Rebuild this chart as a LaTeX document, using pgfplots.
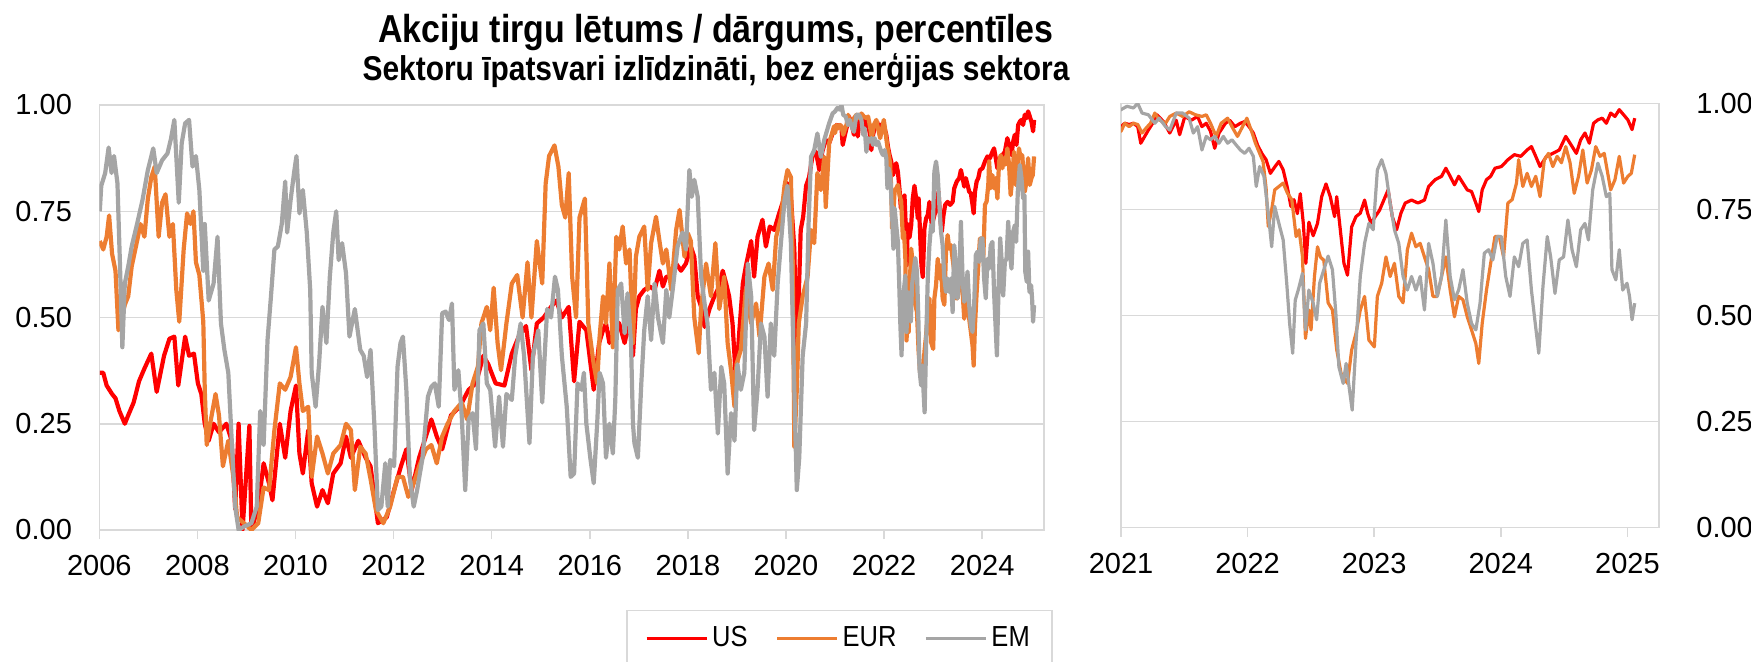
\documentclass[border=0pt]{standalone}
\usepackage{fontspec}
\setmainfont{Liberation Sans}
\newfontfamily\titlefont{Liberation Sans}[FakeStretch=0.87]
\newfontfamily\legfont{Liberation Sans}[FakeStretch=0.88]
\usepackage{pgfplots}
\usepackage{pgfplotstable}
\pgfplotsset{compat=1.18}
\definecolor{usred}{HTML}{FF0000}
\definecolor{eurorange}{HTML}{ED7D31}
\definecolor{emgray}{HTML}{A5A5A5}
\definecolor{gridgray}{HTML}{D9D9D9}

\pgfplotstableread{
year val
2006.01 0.37
2006.08 0.37
2006.15 0.34
2006.26 0.32
2006.33 0.31
2006.41 0.28
2006.52 0.25
2006.59 0.27
2006.70 0.30
2006.81 0.35
2006.92 0.38
2007.06 0.415
2007.17 0.325
2007.32 0.41
2007.43 0.45
2007.53 0.455
2007.61 0.34
2007.75 0.455
2007.83 0.41
2007.93 0.415
2008.01 0.345
2008.08 0.32
2008.15 0.25
2008.23 0.21
2008.33 0.25
2008.44 0.23
2008.59 0.25
2008.70 0.21
2008.77 0.05
2008.84 0.25
2008.92 0.0
2009.06 0.245
2009.10 0.0
2009.24 0.055
2009.35 0.157
2009.46 0.11
2009.53 0.07
2009.68 0.25
2009.79 0.17
2009.90 0.28
2010.01 0.34
2010.08 0.18
2010.15 0.133
2010.26 0.235
2010.33 0.11
2010.44 0.055
2010.55 0.094
2010.66 0.063
2010.77 0.133
2010.92 0.157
2011.03 0.22
2011.13 0.17
2011.28 0.21
2011.43 0.17
2011.53 0.15
2011.68 0.016
2011.86 0.03
2012.01 0.094
2012.15 0.15
2012.26 0.19
2012.37 0.094
2012.52 0.17
2012.63 0.21
2012.77 0.26
2012.88 0.22
2012.99 0.19
2013.17 0.27
2013.35 0.29
2013.53 0.33
2013.68 0.345
2013.83 0.41
2013.93 0.39
2014.08 0.345
2014.26 0.34
2014.41 0.415
2014.55 0.455
2014.70 0.48
2014.81 0.376
2014.92 0.486
2015.06 0.50
2015.21 0.525
2015.32 0.54
2015.43 0.50
2015.57 0.525
2015.68 0.35
2015.79 0.49
2015.93 0.47
2016.08 0.33
2016.19 0.44
2016.27 0.47
2016.33 0.486
2016.40 0.44
2016.50 0.494
2016.60 0.486
2016.71 0.44
2016.81 0.494
2016.88 0.41
2016.94 0.52
2017.01 0.55
2017.11 0.565
2017.22 0.573
2017.32 0.565
2017.42 0.61
2017.49 0.573
2017.56 0.596
2017.66 0.596
2017.76 0.627
2017.86 0.61
2017.96 0.627
2018.06 0.667
2018.13 0.643
2018.20 0.55
2018.27 0.525
2018.34 0.478
2018.44 0.52
2018.54 0.55
2018.64 0.573
2018.71 0.61
2018.78 0.58
2018.84 0.55
2018.91 0.486
2018.98 0.353
2019.05 0.47
2019.12 0.58
2019.18 0.62
2019.29 0.68
2019.35 0.596
2019.42 0.69
2019.52 0.73
2019.59 0.667
2019.67 0.714
2019.76 0.706
2019.86 0.745
2019.97 0.784
2020.03 0.816
2020.10 0.784
2020.17 0.66
2020.22 0.37
2020.26 0.55
2020.30 0.706
2020.35 0.737
2020.41 0.81
2020.47 0.83
2020.54 0.88
2020.61 0.89
2020.68 0.847
2020.74 0.89
2020.81 0.918
2020.88 0.91
2020.95 0.933
2021.000 0.945
2021.030 0.953
2021.064 0.95
2021.098 0.953
2021.132 0.945
2021.156 0.906
2021.183 0.92
2021.216 0.937
2021.250 0.953
2021.284 0.973
2021.335 0.957
2021.385 0.93
2021.436 0.96
2021.463 0.926
2021.504 0.969
2021.554 0.96
2021.605 0.969
2021.639 0.945
2021.673 0.953
2021.707 0.934
2021.740 0.894
2021.774 0.93
2021.825 0.953
2021.859 0.96
2021.899 0.945
2021.943 0.953
2021.977 0.957
2022.011 0.945
2022.045 0.93
2022.078 0.902
2022.112 0.882
2022.146 0.867
2022.180 0.835
2022.214 0.85
2022.247 0.863
2022.281 0.843
2022.315 0.80
2022.342 0.757
2022.366 0.773
2022.393 0.74
2022.416 0.787
2022.440 0.717
2022.460 0.623
2022.484 0.72
2022.518 0.688
2022.552 0.717
2022.585 0.78
2022.619 0.81
2022.653 0.78
2022.687 0.733
2022.704 0.78
2022.738 0.686
2022.761 0.623
2022.789 0.595
2022.822 0.709
2022.856 0.733
2022.890 0.741
2022.924 0.772
2022.948 0.741
2022.975 0.717
2023.008 0.733
2023.042 0.748
2023.076 0.772
2023.110 0.796
2023.143 0.733
2023.177 0.702
2023.211 0.741
2023.245 0.765
2023.295 0.772
2023.346 0.765
2023.397 0.772
2023.430 0.804
2023.481 0.82
2023.532 0.828
2023.566 0.847
2023.600 0.828
2023.634 0.808
2023.667 0.828
2023.701 0.812
2023.735 0.796
2023.769 0.792
2023.803 0.765
2023.826 0.745
2023.853 0.796
2023.887 0.82
2023.920 0.828
2023.954 0.847
2024.005 0.851
2024.056 0.867
2024.107 0.879
2024.158 0.875
2024.208 0.89
2024.242 0.898
2024.276 0.875
2024.310 0.851
2024.361 0.875
2024.411 0.882
2024.462 0.89
2024.513 0.922
2024.547 0.906
2024.597 0.882
2024.631 0.914
2024.665 0.93
2024.699 0.906
2024.733 0.953
2024.767 0.961
2024.801 0.965
2024.834 0.953
2024.868 0.977
2024.902 0.969
2024.936 0.985
2024.970 0.973
2025.004 0.961
2025.037 0.938
2025.058 0.965
}\usdata

\pgfplotstableread{
year val
2006.01 0.68
2006.08 0.66
2006.15 0.69
2006.20 0.74
2006.26 0.65
2006.33 0.61
2006.39 0.47
2006.44 0.49
2006.52 0.53
2006.59 0.55
2006.66 0.62
2006.77 0.68
2006.84 0.72
2006.92 0.69
2006.99 0.78
2007.06 0.83
2007.13 0.855
2007.21 0.69
2007.28 0.77
2007.35 0.79
2007.43 0.69
2007.50 0.72
2007.57 0.565
2007.63 0.49
2007.72 0.66
2007.79 0.745
2007.86 0.72
2007.92 0.75
2007.97 0.63
2008.04 0.60
2008.12 0.49
2008.15 0.33
2008.19 0.20
2008.26 0.25
2008.37 0.32
2008.44 0.27
2008.52 0.15
2008.63 0.21
2008.74 0.12
2008.81 0.03
2008.95 0.016
2009.10 0.0
2009.24 0.016
2009.35 0.10
2009.46 0.094
2009.57 0.235
2009.68 0.345
2009.79 0.33
2009.90 0.36
2010.01 0.43
2010.08 0.345
2010.15 0.28
2010.26 0.29
2010.33 0.125
2010.44 0.22
2010.55 0.18
2010.66 0.133
2010.77 0.18
2010.92 0.20
2011.03 0.25
2011.13 0.235
2011.21 0.094
2011.32 0.196
2011.43 0.18
2011.53 0.12
2011.64 0.047
2011.79 0.016
2011.93 0.055
2012.08 0.125
2012.19 0.125
2012.30 0.078
2012.41 0.11
2012.52 0.15
2012.66 0.19
2012.77 0.20
2012.88 0.157
2012.99 0.22
2013.10 0.25
2013.24 0.28
2013.39 0.30
2013.50 0.26
2013.61 0.345
2013.72 0.385
2013.79 0.486
2013.90 0.525
2013.97 0.47
2014.04 0.57
2014.12 0.44
2014.19 0.376
2014.30 0.486
2014.41 0.58
2014.52 0.60
2014.63 0.50
2014.73 0.63
2014.81 0.50
2014.92 0.68
2015.03 0.58
2015.10 0.815
2015.17 0.88
2015.28 0.905
2015.36 0.855
2015.43 0.765
2015.50 0.735
2015.57 0.84
2015.64 0.596
2015.72 0.50
2015.79 0.735
2015.90 0.78
2015.97 0.486
2016.08 0.39
2016.15 0.345
2016.20 0.455
2016.27 0.55
2016.33 0.486
2016.40 0.627
2016.47 0.43
2016.54 0.69
2016.60 0.66
2016.67 0.714
2016.74 0.627
2016.81 0.66
2016.88 0.44
2016.94 0.643
2017.01 0.69
2017.11 0.714
2017.18 0.565
2017.25 0.675
2017.35 0.737
2017.42 0.68
2017.49 0.627
2017.56 0.66
2017.66 0.565
2017.76 0.706
2017.83 0.753
2017.93 0.643
2018.00 0.698
2018.06 0.68
2018.13 0.50
2018.22 0.416
2018.27 0.525
2018.37 0.627
2018.47 0.55
2018.56 0.675
2018.64 0.52
2018.74 0.596
2018.81 0.44
2018.88 0.376
2018.95 0.29
2018.99 0.39
2019.08 0.424
2019.18 0.565
2019.29 0.486
2019.39 0.533
2019.46 0.455
2019.56 0.596
2019.645 0.627
2019.73 0.565
2019.80 0.69
2019.90 0.737
2019.97 0.81
2020.03 0.847
2020.10 0.83
2020.135 0.643
2020.17 0.196
2020.22 0.33
2020.26 0.486
2020.34 0.55
2020.44 0.596
2020.51 0.706
2020.575 0.675
2020.64 0.84
2020.71 0.80
2020.78 0.878
2020.81 0.76
2020.88 0.91
2020.98 0.95
2021.000 0.934
2021.030 0.953
2021.064 0.945
2021.098 0.953
2021.132 0.95
2021.166 0.93
2021.199 0.942
2021.233 0.953
2021.267 0.977
2021.301 0.961
2021.352 0.953
2021.385 0.969
2021.436 0.977
2021.487 0.969
2021.538 0.98
2021.588 0.973
2021.639 0.969
2021.673 0.973
2021.707 0.953
2021.751 0.922
2021.791 0.953
2021.842 0.965
2021.876 0.945
2021.920 0.922
2021.960 0.945
2021.994 0.965
2022.028 0.937
2022.062 0.906
2022.095 0.882
2022.122 0.863
2022.146 0.80
2022.163 0.71
2022.190 0.749
2022.214 0.796
2022.247 0.804
2022.281 0.812
2022.315 0.788
2022.349 0.773
2022.383 0.686
2022.406 0.702
2022.433 0.64
2022.457 0.446
2022.484 0.513
2022.501 0.466
2022.528 0.592
2022.552 0.662
2022.575 0.638
2022.602 0.63
2022.636 0.53
2022.670 0.513
2022.704 0.419
2022.738 0.364
2022.789 0.34
2022.822 0.419
2022.856 0.458
2022.890 0.513
2022.924 0.545
2022.958 0.442
2023.001 0.426
2023.025 0.545
2023.059 0.576
2023.093 0.638
2023.126 0.592
2023.160 0.623
2023.194 0.545
2023.228 0.53
2023.262 0.655
2023.295 0.694
2023.329 0.662
2023.363 0.67
2023.397 0.638
2023.430 0.608
2023.464 0.545
2023.498 0.545
2023.532 0.592
2023.566 0.638
2023.600 0.56
2023.634 0.497
2023.667 0.545
2023.701 0.537
2023.735 0.497
2023.769 0.466
2023.803 0.434
2023.826 0.387
2023.853 0.481
2023.887 0.56
2023.920 0.623
2023.954 0.686
2023.988 0.686
2024.022 0.638
2024.056 0.765
2024.090 0.773
2024.124 0.812
2024.141 0.867
2024.174 0.804
2024.208 0.835
2024.242 0.804
2024.276 0.828
2024.310 0.78
2024.344 0.867
2024.377 0.882
2024.411 0.851
2024.445 0.875
2024.479 0.86
2024.513 0.898
2024.547 0.86
2024.580 0.788
2024.614 0.828
2024.648 0.89
2024.682 0.812
2024.716 0.843
2024.750 0.898
2024.784 0.875
2024.817 0.882
2024.868 0.796
2024.902 0.82
2024.936 0.875
2024.970 0.812
2025.004 0.828
2025.031 0.835
2025.058 0.879
}\eurdata

\pgfplotstableread{
year val
2006.01 0.75
2006.04 0.81
2006.12 0.84
2006.19 0.90
2006.25 0.84
2006.30 0.88
2006.37 0.816
2006.42 0.63
2006.47 0.43
2006.52 0.58
2006.59 0.62
2006.66 0.667
2006.77 0.72
2006.88 0.776
2006.99 0.847
2007.10 0.898
2007.17 0.84
2007.28 0.87
2007.39 0.886
2007.46 0.92
2007.53 0.965
2007.62 0.77
2007.68 0.91
2007.75 0.957
2007.83 0.965
2007.90 0.855
2007.97 0.88
2008.04 0.80
2008.12 0.61
2008.15 0.72
2008.23 0.54
2008.33 0.58
2008.41 0.69
2008.48 0.486
2008.55 0.424
2008.63 0.37
2008.70 0.21
2008.77 0.055
2008.84 0.0
2008.95 0.008
2009.10 0.016
2009.21 0.055
2009.28 0.28
2009.35 0.20
2009.43 0.447
2009.50 0.55
2009.57 0.66
2009.64 0.667
2009.72 0.72
2009.79 0.82
2009.83 0.70
2009.90 0.776
2009.97 0.84
2010.02 0.88
2010.08 0.745
2010.15 0.80
2010.23 0.70
2010.30 0.565
2010.33 0.37
2010.41 0.29
2010.48 0.39
2010.55 0.525
2010.63 0.44
2010.70 0.596
2010.77 0.70
2010.83 0.75
2010.88 0.635
2010.95 0.675
2011.03 0.604
2011.10 0.455
2011.21 0.52
2011.32 0.424
2011.39 0.41
2011.46 0.36
2011.53 0.424
2011.61 0.243
2011.68 0.047
2011.75 0.055
2011.83 0.157
2011.88 0.055
2011.93 0.165
2012.01 0.15
2012.08 0.384
2012.14 0.44
2012.19 0.455
2012.26 0.33
2012.33 0.125
2012.41 0.055
2012.48 0.094
2012.59 0.17
2012.70 0.314
2012.77 0.337
2012.84 0.345
2012.92 0.29
2012.99 0.51
2013.06 0.514
2013.13 0.494
2013.19 0.533
2013.24 0.33
2013.32 0.376
2013.39 0.267
2013.46 0.094
2013.53 0.26
2013.61 0.275
2013.68 0.19
2013.75 0.47
2013.83 0.486
2013.90 0.345
2013.97 0.33
2014.07 0.196
2014.15 0.314
2014.23 0.196
2014.30 0.32
2014.41 0.306
2014.48 0.41
2014.59 0.486
2014.66 0.41
2014.77 0.204
2014.84 0.41
2014.95 0.47
2015.03 0.30
2015.13 0.52
2015.21 0.50
2015.29 0.596
2015.35 0.565
2015.43 0.41
2015.53 0.29
2015.61 0.125
2015.68 0.133
2015.75 0.345
2015.83 0.33
2015.88 0.37
2015.93 0.25
2016.01 0.17
2016.08 0.11
2016.15 0.25
2016.20 0.37
2016.27 0.345
2016.33 0.17
2016.40 0.25
2016.47 0.18
2016.52 0.306
2016.57 0.565
2016.64 0.58
2016.71 0.463
2016.77 0.557
2016.84 0.44
2016.88 0.25
2016.91 0.204
2016.98 0.17
2017.05 0.345
2017.11 0.47
2017.18 0.55
2017.25 0.447
2017.32 0.58
2017.39 0.50
2017.49 0.44
2017.56 0.565
2017.62 0.50
2017.69 0.565
2017.79 0.667
2017.89 0.70
2017.96 0.66
2018.03 0.847
2018.08 0.784
2018.13 0.824
2018.20 0.784
2018.27 0.596
2018.34 0.533
2018.40 0.486
2018.47 0.33
2018.54 0.37
2018.61 0.227
2018.68 0.384
2018.74 0.345
2018.81 0.133
2018.88 0.275
2018.95 0.21
2019.01 0.39
2019.08 0.33
2019.15 0.37
2019.22 0.627
2019.29 0.55
2019.35 0.235
2019.42 0.33
2019.49 0.486
2019.56 0.455
2019.625 0.314
2019.69 0.486
2019.76 0.41
2019.83 0.58
2019.90 0.68
2019.97 0.776
2020.03 0.81
2020.10 0.675
2020.17 0.33
2020.22 0.094
2020.27 0.17
2020.34 0.41
2020.41 0.486
2020.46 0.72
2020.51 0.878
2020.575 0.894
2020.64 0.933
2020.71 0.878
2020.78 0.918
2020.88 0.957
2020.95 0.98
2021.000 0.985
2021.047 0.993
2021.098 0.989
2021.132 1.0
2021.166 0.977
2021.216 0.973
2021.267 0.953
2021.301 0.965
2021.352 0.945
2021.385 0.937
2021.436 0.977
2021.487 0.977
2021.538 0.965
2021.571 0.93
2021.605 0.945
2021.639 0.89
2021.673 0.922
2021.707 0.914
2021.740 0.922
2021.774 0.906
2021.808 0.922
2021.842 0.906
2021.876 0.914
2021.909 0.902
2021.943 0.89
2021.977 0.882
2022.011 0.894
2022.045 0.875
2022.068 0.804
2022.095 0.851
2022.129 0.828
2022.163 0.741
2022.190 0.662
2022.214 0.757
2022.247 0.717
2022.281 0.678
2022.309 0.576
2022.332 0.481
2022.356 0.411
2022.376 0.536
2022.400 0.56
2022.433 0.599
2022.457 0.466
2022.484 0.56
2022.518 0.529
2022.545 0.49
2022.569 0.576
2022.602 0.608
2022.636 0.64
2022.670 0.608
2022.697 0.505
2022.721 0.379
2022.755 0.34
2022.778 0.387
2022.805 0.324
2022.826 0.277
2022.856 0.434
2022.890 0.592
2022.924 0.67
2022.958 0.717
2022.992 0.702
2023.025 0.843
2023.059 0.867
2023.093 0.835
2023.126 0.765
2023.160 0.702
2023.194 0.67
2023.228 0.592
2023.262 0.56
2023.295 0.592
2023.329 0.56
2023.363 0.592
2023.397 0.513
2023.430 0.67
2023.464 0.623
2023.498 0.545
2023.532 0.592
2023.566 0.725
2023.600 0.592
2023.634 0.537
2023.667 0.56
2023.701 0.608
2023.735 0.529
2023.769 0.481
2023.803 0.466
2023.836 0.529
2023.870 0.647
2023.904 0.655
2023.937 0.631
2023.971 0.686
2024.005 0.686
2024.039 0.592
2024.073 0.545
2024.107 0.638
2024.141 0.615
2024.174 0.67
2024.208 0.678
2024.242 0.56
2024.266 0.497
2024.300 0.411
2024.333 0.568
2024.367 0.686
2024.394 0.638
2024.428 0.552
2024.462 0.631
2024.496 0.638
2024.530 0.725
2024.563 0.655
2024.597 0.615
2024.631 0.702
2024.665 0.717
2024.692 0.678
2024.726 0.796
2024.767 0.859
2024.801 0.828
2024.834 0.78
2024.861 0.788
2024.878 0.608
2024.909 0.584
2024.936 0.655
2024.963 0.56
2024.997 0.576
2025.017 0.545
2025.037 0.49
2025.058 0.529
}\emdata

\pgfplotsset{
  percbase/.style={
    scale only axis,
    ymin=0, ymax=1,
    ytick={0,0.25,0.5,0.75,1},
    yticklabels={0.00,0.25,0.50,0.75,1.00},
    ymajorgrids,
    grid style={gridgray, line width=0.75pt},
    axis line style={gridgray, line width=0.75pt},
    tick align=outside,
    major tick length=4.5pt,
    xtick pos=lower,
    xtick style={gridgray, line width=0.75pt},
    ytick style={draw=none},
    ticklabel style={font=\fontsize{14.5}{16}\selectfont, inner sep=0pt, text=black},
    xticklabel style={anchor=north, yshift=-8pt},
    legend style={draw=none},
  },
}

\begin{document}
\begin{tikzpicture}
\useasboundingbox (0,0) rectangle (875.5pt,330.5pt);

\node[anchor=base] at (358pt,309.3pt) {\titlefont\bfseries\fontsize{19.5}{22}\selectfont Akciju tirgu lētums / dārgums, percentīles};
\node[anchor=base] at (358pt,290.3pt) {\titlefont\bfseries\fontsize{17.2}{20}\selectfont Sektoru īpatsvari izlīdzināti, bez enerģijas sektora};

\begin{axis}[percbase,
  at={(49.65pt,65.5pt)}, anchor=south west,
  width=472.35pt, height=212.5pt,
  xmin=2006, xmax=2025.26,
  xtick={2006,2008,2010,2012,2014,2016,2018,2020,2022,2024},
  xticklabels={2006,2008,2010,2012,2014,2016,2018,2020,2022,2024},
  yticklabel style={anchor=east, xshift=-9pt},
  legend columns=3,
  legend image code/.code={\draw[#1, line width=1.5pt] (0pt,0pt) -- (30pt,0pt);},
  legend style={at={(0.7835,-0.1882)}, anchor=north,
    draw=gridgray, line width=0.75pt,
    font=\legfont\fontsize{14.5}{16}\selectfont,
    inner xsep=9pt, inner ysep=6pt,
    /tikz/every even column/.append style={column sep=12pt},
    /tikz/every odd column/.append style={column sep=0pt}},
]
\addplot[usred, line width=2.1pt, line join=round] table[x=year, y=val] {\usdata};
\addlegendentry{US}
\addplot[eurorange, line width=2.1pt, line join=round] table[x=year, y=val] {\eurdata};
\addlegendentry{EUR}
\addplot[emgray, line width=2.1pt, line join=round] table[x=year, y=val] {\emdata};
\addlegendentry{EM}
\end{axis}

\begin{axis}[percbase,
  at={(560.5pt,66.65pt)}, anchor=south west,
  width=269pt, height=212.2pt,
  xmin=2021, xmax=2025.25,
  xtick={2021,2022,2023,2024,2025},
  xticklabels={2021,2022,2023,2024,2025},
  yticklabel pos=right,
  yticklabel style={anchor=west, xshift=14pt},
]
\addplot[usred, line width=1.6pt, line join=round] table[x=year, y=val] {\usdata};
\addplot[eurorange, line width=1.6pt, line join=round] table[x=year, y=val] {\eurdata};
\addplot[emgray, line width=1.6pt, line join=round] table[x=year, y=val] {\emdata};
\end{axis}
\end{tikzpicture}
\end{document}
